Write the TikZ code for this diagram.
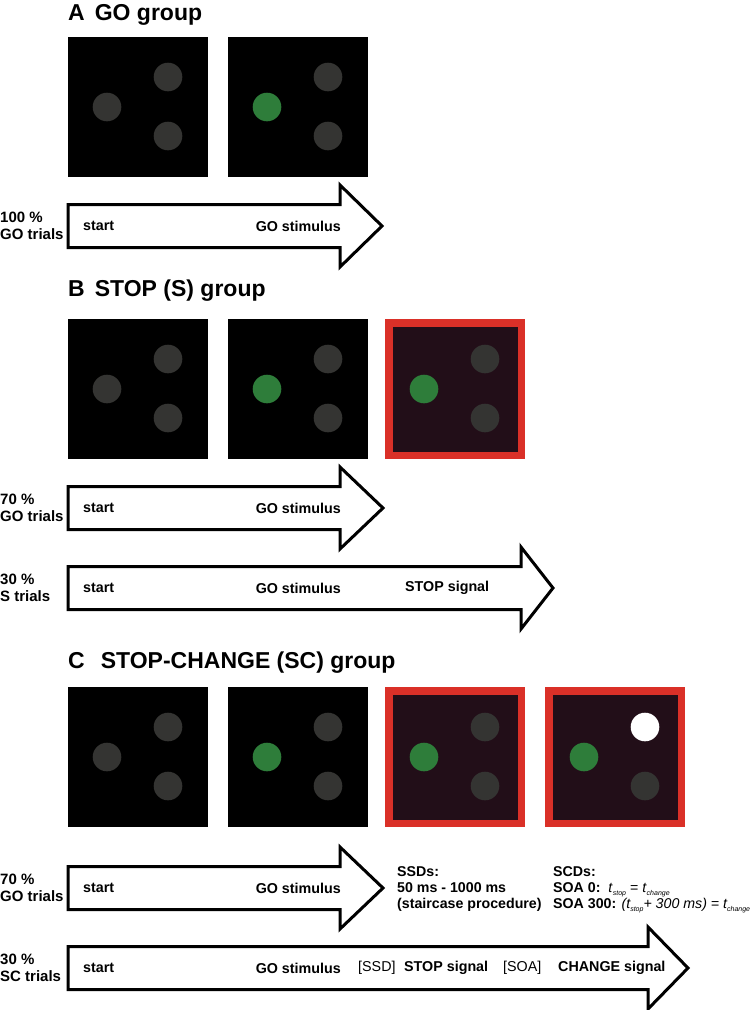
\documentclass[tikz,border=0pt]{standalone}
\usepackage{fontspec}
\setmainfont{Liberation Sans}

\definecolor{dotgray}{RGB}{52,52,50}
\definecolor{gogreen}{RGB}{46,125,58}
\definecolor{stopred}{RGB}{218,48,40}
\definecolor{stopdark}{RGB}{34,14,24}

\tikzset{
  grouptitle/.style={anchor=base west,inner sep=0pt,font=\fontsize{23}{26}\selectfont\bfseries},
  trialtext/.style={inner sep=0pt,font=\fontsize{14.3}{17}\selectfont\bfseries},
  plaintext/.style={inner sep=0pt,anchor=west,font=\fontsize{14.3}{17}\selectfont},
  trialname/.style={inner sep=0pt,anchor=west,align=left,font=\fontsize{15}{17}\selectfont\bfseries},
  infotext/.style={inner sep=0pt,anchor=north west,align=left,font=\fontsize{14.2}{16}\selectfont\bfseries},
  trialline/.style={draw=black,fill=white,line width=3pt,line join=miter},
}

% x, y of the top left corner
\newcommand{\blackscreen}[2]{\fill[black] (#1,#2) rectangle ++(140,140);}
\newcommand{\redscreen}[2]{%
  \fill[stopred] (#1,#2) rectangle ++(140,140);
  \fill[stopdark] (#1+7.5,#2+7.5) rectangle ++(125,125);}
% x, y, left dot, upper right dot
\newcommand{\screendots}[4]{%
  \fill[#3] (#1+39,#2+70) circle (14.3pt);
  \fill[#4] (#1+100,#2+40) circle (14.3pt);
  \fill[dotgray] (#1+100,#2+99) circle (14.3pt);}
% y of the middle, x of the head base, x of the tip
\newcommand{\trialarrow}[3]{%
  \draw[trialline] (68,#1-21.5) -- (#2,#1-21.5) -- (#2,#1-41) -- (#3,#1)
    -- (#2,#1+41) -- (#2,#1+21.5) -- (68,#1+21.5) -- cycle;}
\newcommand{\tsub}[1]{\textit{t}\raisebox{-0.4ex}{\fontsize{7}{8}\selectfont\itshape #1}}

\begin{document}
\begin{tikzpicture}[x=1pt,y=-1pt]
  \useasboundingbox (0,0) rectangle (750,1010);

  % A
  \node[grouptitle] (titleA) at (68,20) {A\hspace{10pt}GO group};
  \blackscreen{68}{37}  \screendots{68}{37}{dotgray}{dotgray}
  \blackscreen{228}{37} \screendots{228}{37}{gogreen}{dotgray}
  \trialarrow{226}{340}{382}
  \node[trialname] (goA) at (0,226) {100 \%\\GO trials};
  \node[trialtext,anchor=west] (startA) at (83,226) {start};
  \node[trialtext,anchor=east] (stimA) at (341,226) {GO stimulus};

  % B
  \node[grouptitle] (titleB) at (68,296) {B\hspace{10pt}STOP (S) group};
  \blackscreen{68}{319}  \screendots{68}{319}{dotgray}{dotgray}
  \blackscreen{228}{319} \screendots{228}{319}{gogreen}{dotgray}
  \redscreen{385}{319}   \screendots{385}{319}{gogreen}{dotgray}
  \trialarrow{508}{340}{383}
  \node[trialname] (goB) at (0,508) {70 \%\\GO trials};
  \node[trialtext,anchor=west] (startB) at (83,508) {start};
  \node[trialtext,anchor=east] (stimB) at (341,508) {GO stimulus};
  \trialarrow{588}{521}{553}
  \node[trialname] (stopB) at (0,588) {30 \%\\S trials};
  \node[trialtext,anchor=west] (startS) at (83,588) {start};
  \node[trialtext,anchor=east] (stimS) at (341,588) {GO stimulus};
  \node[trialtext,anchor=west] (signalS) at (405,588) {STOP signal};

  % C
  \node[grouptitle] (titleC) at (68,668) {C\hspace{16pt}STOP-CHANGE (SC) group};
  \blackscreen{68}{687}  \screendots{68}{687}{dotgray}{dotgray}
  \blackscreen{228}{687} \screendots{228}{687}{gogreen}{dotgray}
  \redscreen{385}{687}   \screendots{385}{687}{gogreen}{dotgray}
  \redscreen{545}{687}   \screendots{545}{687}{gogreen}{white}
  \trialarrow{888}{340}{383}
  \node[trialname] (goC) at (0,888) {70 \%\\GO trials};
  \node[trialtext,anchor=west] (startC) at (83,888) {start};
  \node[trialtext,anchor=east] (stimC) at (341,888) {GO stimulus};
  \node[infotext] (ssds) at (397,866) {SSDs:\\50 ms - 1000 ms\\(staircase procedure)};
  \node[infotext] (scds) at (553,866) {SCDs:\\SOA 0:\ \ \textmd{\tsub{stop} = \tsub{change}}\\
    SOA 300: \textmd{\itshape (\tsub{stop}+ 300 ms) = \tsub{change}}};
  \trialarrow{968}{648}{688}
  \node[trialname] (changeC) at (0,968) {30 \%\\SC trials};
  \node[trialtext,anchor=west] (startSC) at (83,968) {start};
  \node[trialtext,anchor=east] (stimSC) at (341,968) {GO stimulus};
  \node[plaintext] (ssd) at (358,968) {[SSD]};
  \node[trialtext,anchor=west] (signalSC) at (404,968) {STOP signal};
  \node[plaintext] (soa) at (503,968) {[SOA]};
  \node[trialtext,anchor=west] (changeSC) at (558,968) {CHANGE signal};
\end{tikzpicture}
\end{document}
